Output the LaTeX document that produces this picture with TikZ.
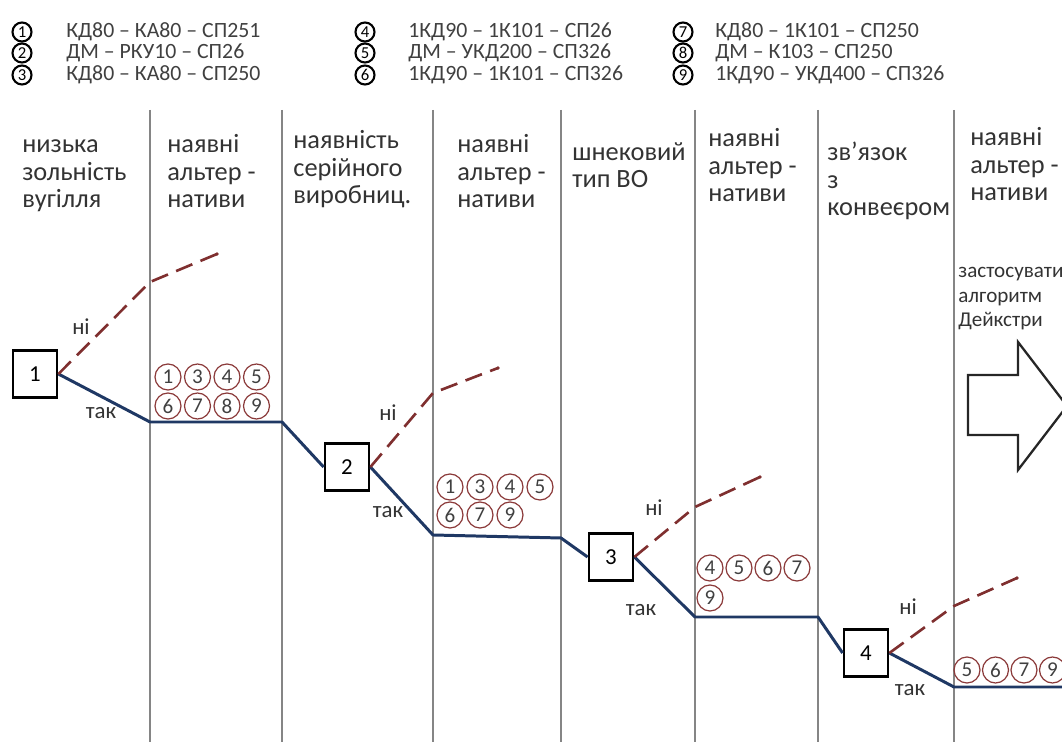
\documentclass[tikz,border=0pt]{standalone}
\usepackage{fontspec}
\setmainfont{Carlito}
\usepackage{xcolor}
\usepackage{tikz}
\usetikzlibrary{calc,positioning}
\definecolor{yesblue}{HTML}{1F3864}
\definecolor{nored}{HTML}{7F2F2F}
\definecolor{ringred}{HTML}{8B3A3A}
\definecolor{colgray}{HTML}{858585}

\begin{document}
\begin{tikzpicture}[x=0.02cm,y=-0.02cm,
  col/.style={colgray, line width=0.8pt},
  hdr/.style={anchor=base west, inner sep=0pt, align=left, font=\fontsize{15}{15.9}\selectfont, text=black!80},
  box/.style={draw, line width=1.6pt, minimum width=0.88cm, minimum height=0.94cm, inner sep=0pt, font=\fontsize{13}{15}\selectfont},
  yesline/.style={yesblue, line width=1.7pt, line join=round},
  noline/.style={nored, line width=1.5pt, dash pattern=on 10pt off 5pt},
  num/.style={circle, draw=ringred, line width=0.7pt, inner sep=0pt, minimum size=0.52cm, font=\fontsize{12}{12}\selectfont, text=black!75},
  key/.style={circle, draw=black, line width=1.2pt, inner sep=0pt, minimum size=0.38cm, font=\fontsize{9.5}{9.5}\selectfont},
  keytext/.style={anchor=west, inner sep=0pt, font=\fontsize{12.4}{12}\selectfont, text=black!75},
  lbl/.style={inner sep=0pt, font=\fontsize{13}{15}\selectfont, text=black!80}]

\useasboundingbox (0,0) rectangle (1062,742);
\clip (0,0) rectangle (1062,742);

% legend
\node[key] (k1) at (22,32) {1};
\node[key] (k2) at (22,53) {2};
\node[key] (k3) at (22,75) {3};
\node[keytext] (t1) at (66,32) {КД80 – КА80 – СП251};
\node[keytext] (t2) at (66,53) {ДМ – РКУ10 – СП26};
\node[keytext] (t3) at (66,75) {КД80 – КА80 – СП250};

\node[key] (k4) at (365,32) {4};
\node[key] (k5) at (365,53) {5};
\node[key] (k6) at (365,75) {6};
\node[keytext] (t4) at (408,32) {1КД90 – 1К101 – СП26};
\node[keytext] (t5) at (408,53) {ДМ – УКД200 – СП326};
\node[keytext] (t6) at (408,75) {1КД90 – 1К101 – СП326};

\node[key] (k7) at (683,32) {7};
\node[key] (k8) at (683,53) {8};
\node[key] (k9) at (683,75) {9};
\node[keytext] (t7) at (715,32) {КД80 – 1К101 – СП250};
\node[keytext] (t8) at (715,53) {ДМ – К103 – СП250};
\node[keytext] (t9) at (715,75) {1КД90 – УКД400 – СП326};

% columns
\foreach \x in {150,282,433,561,695,818,954}
  \draw[col] (\x,110) -- (\x,742);

\node[hdr] (h0) at (22,208) {низька\\зольність\\вугілля};
\node[hdr] (h1) at (167,208) {наявні\\альтер -\\нативи};
\node[hdr] (h2) at (293,204) {наявність\\серійного\\виробниц.};
\node[hdr] (h3) at (457,208) {наявні\\альтер -\\нативи};
\node[hdr] (h4) at (572,188) {шнековий\\тип ВО};
\node[hdr] (h5) at (708,202) {наявні\\альтер -\\нативи};
\node[hdr] (h6) at (827,216) {зв’язок\\з\\конвеєром};
\node[hdr] (h7) at (970,201) {наявні\\альтер -\\нативи};

% decision boxes
\node[box] (b1) at (35,374) {1};
\node[box] (b2) at (347,467) {2};
\node[box] (b3) at (611,557) {3};
\node[box] (b4) at (866,653) {4};

% bends of the lines
\coordinate (y1a) at (150,422);
\coordinate (y1b) at (282,422);
\coordinate (y2a) at (433,535);
\coordinate (y2b) at (561,538);
\coordinate (y3a) at (695,617);
\coordinate (y3b) at (818,617);
\coordinate (y4a) at (954,687);
\coordinate (y4b) at (1062,687);

\coordinate (n1a) at (150,282);
\coordinate (n1b) at (217,254);
\coordinate (n2a) at (433,393);
\coordinate (n2b) at (498,368);
\coordinate (n3a) at (695,507);
\coordinate (n3b) at (760,477);
\coordinate (n4a) at (954,606);
\coordinate (n4b) at (1017,578);

\draw[yesline] (b1.east) -- (y1a) -- (y1b) -- (b2.west);
\draw[yesline] (b2.east) -- (y2a) -- (y2b) -- (b3.west);
\draw[yesline] (b3.east) -- (y3a) -- (y3b) -- (b4.west);
\draw[yesline] (b4.east) -- (y4a) -- (y4b);

\draw[noline] (b1.east) -- (n1a) -- (n1b);
\draw[noline] (b2.east) -- (n2a) -- (n2b);
\draw[noline] (b3.east) -- (n3a) -- (n3b);
\draw[noline] (b4.east) -- (n4a) -- (n4b);
\foreach \p in {n1b,n2b,n3b,n4b}
  \fill[nored] (\p) circle (1.1pt);

\node[lbl] (no1) at (81,327) {ні};
\node[lbl] (ye1) at (101,413) {так};
\node[lbl] (no2) at (388,413) {ні};
\node[lbl] (ye2) at (388,512) {так};
\node[lbl] (no3) at (654,508) {ні};
\node[lbl] (ye3) at (641,610) {так};
\node[lbl] (no4) at (908,607) {ні};
\node[lbl] (ye4) at (910,690) {так};

% remaining alternatives
\foreach \n [count=\i] in {1,3,4,5}
  \node[num] (a1\n) at ({168+29.5*(\i-1)},377) {\n};
\foreach \n [count=\i] in {6,7,8,9}
  \node[num] (a2\n) at ({168+29.5*(\i-1)},406) {\n};
\foreach \n [count=\i] in {1,3,4,5}
  \node[num] (c1\n) at ({450+30*(\i-1)},487) {\n};
\foreach \n [count=\i] in {6,7,9}
  \node[num] (c2\n) at ({450+30*(\i-1)},515) {\n};
\foreach \n [count=\i] in {4,5,6,7}
  \node[num] (d1\n) at ({710+29*(\i-1)},568) {\n};
\node[num] (d29) at (710,598) {9};
\foreach \n [count=\i] in {5,6,7,9}
  \node[num] (e1\n) at ({967+28.5*(\i-1)},670) {\n};

% last step
\node[anchor=base west, inner sep=0pt, align=left, font=\fontsize{12}{14.2}\selectfont, text=black!80] (alg) at (958,327) {застосувати\\алгоритм\\Дейкстри};
\draw[line width=1.3pt, black!85, line join=miter] (968,375) -- (1018,375) -- (1018,342) -- (1067,406) -- (1018,470) -- (1018,435) -- (968,435) -- cycle;

\end{tikzpicture}
\end{document}
